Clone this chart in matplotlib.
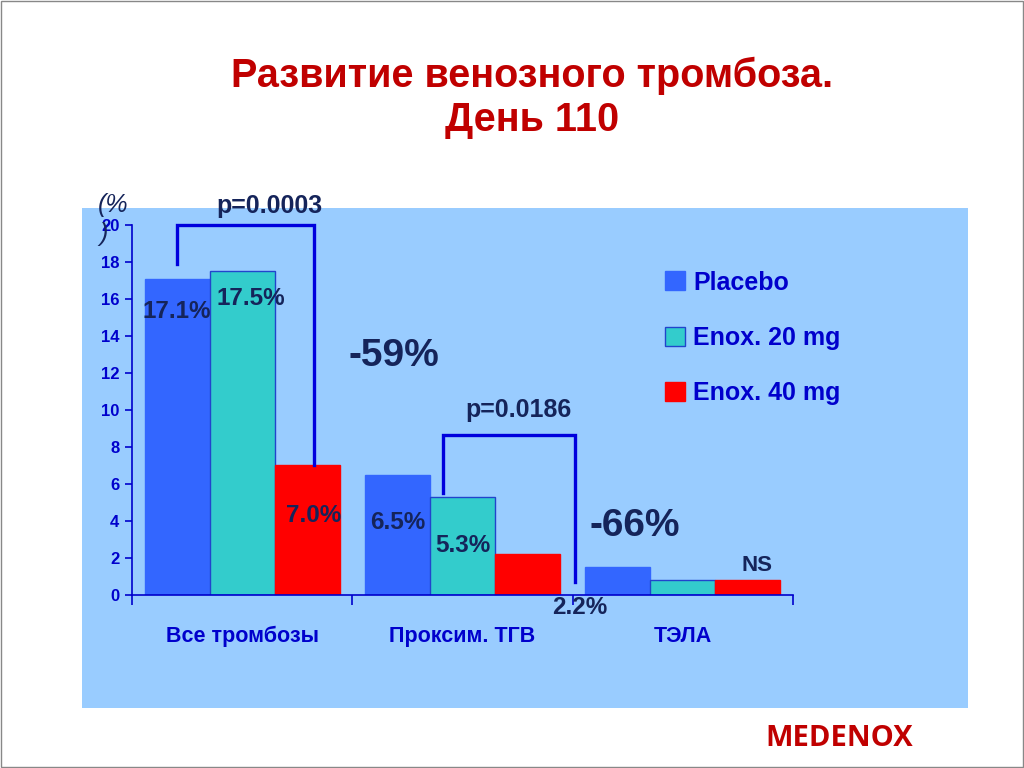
import numpy as np
import matplotlib.pyplot as plt
from matplotlib.patches import Rectangle

plt.rcParams['font.family'] = ['Liberation Sans', 'DejaVu Sans']

# Data
categories = ['Все тромбозы', 'Проксим. ТГВ', 'ТЭЛА']
series_names = ['Placebo', 'Enox. 20 mg', 'Enox. 40 mg']
placebo = [17.1, 6.5, 1.5]
enox20 = [17.5, 5.3, 0.8]
enox40 = [7.0, 2.2, 0.8]
value_labels = [['17.1%', '6.5%', None],
                ['17.5%', '5.3%', None],
                ['7.0%', '2.2%', None]]
yticks = list(range(0, 21, 2))

colors = ['#3366FF', '#33CCCC', '#FF0000']
edge_colors = ['#3366FF', '#2244CC', '#FF0000']
blue = '#0000CC'
navy = '#15245A'
panel = '#99CCFF'

fig = plt.figure(figsize=(10.24, 7.68), dpi=100)
fig.patch.set_facecolor('white')

# slide border
fig.patches.append(Rectangle((0.001, 0.001), 0.998, 0.998, transform=fig.transFigure,
                             facecolor='none', edgecolor='#888888', linewidth=1))

ax = fig.add_axes([0.1289, 0.2253, 0.6455, 0.4818])
ax.set_facecolor('none')
# light blue panel behind the chart
ax.add_patch(Rectangle((0.0801, 0.078), 0.865, 0.651, transform=fig.transFigure,
                       facecolor=panel, edgecolor='none', zorder=0, clip_on=False))

x = np.arange(len(categories)) + 0.5
w = 0.295
all_series = [placebo, enox20, enox40]
bars = []
for i, vals in enumerate(all_series):
    b = ax.bar(x + (i - 1) * w, vals, w, color=colors[i], edgecolor=edge_colors[i],
               linewidth=1, label=series_names[i], zorder=2)
    bars.append(b)

ax.set_xlim(0, 3)
ax.set_ylim(0, 20)
ax.set_yticks(yticks)
ax.set_yticklabels([str(t) for t in yticks], fontsize=12, fontweight='bold', color=blue)
ax.set_xticks([0, 1, 2, 3])
ax.set_xticklabels([])
ax.set_xticks(x, minor=True)
ax.set_xticklabels(categories, minor=True, fontsize=15.5, fontweight='bold', color=blue)
ax.tick_params(axis='x', which='major', direction='out', length=7, color=blue, width=1.2)
ax.tick_params(axis='x', which='minor', length=0, pad=22)
ax.tick_params(axis='y', direction='out', length=5, color=blue, width=1.2, pad=4)
for s in ['top', 'right']:
    ax.spines[s].set_visible(False)
for s in ['left', 'bottom']:
    ax.spines[s].set_color(blue)
    ax.spines[s].set_linewidth(1.2)
    ax.spines[s].set_zorder(3)

# value labels (offset from bar centre, y position)
label_pos = {
    (0, 0): (0.0, 15.3), (1, 0): (0.04, 16.05), (2, 0): (0.03, 4.3),
    (0, 1): (0.0, 3.9), (1, 1): (0.0, 2.7), (2, 1): (0.235, -0.7),
}
for (si, gi), (dx, yy) in label_pos.items():
    ax.text(x[gi] + (si - 1) * w + dx, yy, value_labels[si][gi], ha='center', va='center',
            fontsize=17.5, fontweight='bold', color=navy, zorder=4)
ax.text(x[2] + w + 0.04, 1.6, 'NS', ha='center', va='center', fontsize=16,
        fontweight='bold', color=navy)
ax.text(1.19, 12.9, '-59%', ha='center', va='center', fontsize=28, fontweight='bold', color=navy)
ax.text(2.28, 3.75, '-66%', ha='center', va='center', fontsize=28, fontweight='bold', color=navy)

# significance brackets
lw = 2.4
b1x = [x[0] - w, x[0] - w, x[0] + w + 0.03, x[0] + w + 0.03]
b1y = [17.9, 20.0, 20.0, enox40[0]]
ax.plot(b1x, b1y, color='#0000DD', lw=lw, clip_on=False, zorder=3, solid_joinstyle='miter')
ax.text(0.625, 21.0, 'p=0.0003', ha='center', va='center', fontsize=18,
        fontweight='bold', color=navy)
b2x = [x[1] - 0.09, x[1] - 0.09, 2.01, 2.01]
b2y = [5.5, 8.65, 8.65, 0.7]
ax.plot(b2x, b2y, color='#0000DD', lw=lw, clip_on=False, zorder=3, solid_joinstyle='miter')
ax.text(1.755, 10.0, 'p=0.0186', ha='center', va='center', fontsize=18,
        fontweight='bold', color=navy)

# y unit
ax.text(-0.085, 21.1, '(%', ha='center', va='center', fontsize=18, style='italic', color=navy,
        clip_on=False)
ax.text(-0.13, 19.5, ')', ha='center', va='center', fontsize=18, style='italic', color=navy,
        clip_on=False)

# legend
leg = fig.legend(handles=[b[0] for b in bars], labels=series_names,
                 loc='upper left', bbox_to_anchor=(0.627, 0.677), frameon=False,
                 fontsize=18, handlelength=0.8, handleheight=0.8, handletextpad=0.35,
                 labelspacing=1.25)
for t in leg.get_texts():
    t.set_color(blue)
    t.set_fontweight('bold')

# title
fig.text(0.52, 0.873, 'Развитие венозного тромбоза.\nДень 110', ha='center', va='center',
         fontsize=28.5, fontweight='bold', color='#C00000', linespacing=1.2)
fig.text(0.82, 0.038, 'MEDENOX', ha='center', va='center', fontsize=21, fontweight='bold',
         color='#C00000', family=['Open Sans', 'DejaVu Sans'])

plt.savefig('out.png', dpi=100)
